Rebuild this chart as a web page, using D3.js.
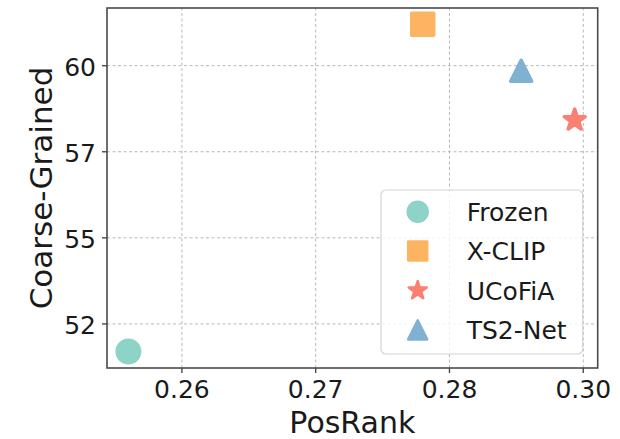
<!DOCTYPE html>
<html>
<head>
<meta charset="utf-8">
<script src="https://cdn.jsdelivr.net/npm/d3@7"></script>
<style>
	body { margin: 0; background: #fff; }
	svg { display: block; font-family: "DejaVu Sans", sans-serif; }
</style>
</head>
<body>
<div id="chart"></div>
<script>
// Methods, PosRank vs Coarse-Grained score
var methods = ["Frozen", "X-CLIP", "UCoFiA", "TS2-Net"];
var posRank = [0.2525, 0.2800, 0.2942, 0.2892];
var coarseGrained = [51.70, 61.20, 58.42, 59.85];

// ticks are evenly spaced, labels as printed on the figure
var xTicks = [0.2575, 0.2700, 0.2825, 0.2950];
var xTickLabels = ["0.26", "0.27", "0.28", "0.30"];
var yTicks = [52.5, 55.0, 57.5, 60.0];
var yTickLabels = ["52", "55", "57", "60"];

var colors = ["#8dd3c7", "#fdb462", "#fb8072", "#80b1d3"];
var shapes = ["circle", "square", "star", "triangle"];

var width = 620, height = 439;
var margin = {top: 8, right: 22.3, bottom: 71, left: 107};

// matplotlib-ish "^" marker: base as wide as it is tall
var triangleType = {
	draw: function(context, size) {
		var h = size / 2;
		context.moveTo(0, -h);
		context.lineTo(h, h);
		context.lineTo(-h, h);
		context.closePath();
	}
};

// d = rough outer size in px
function markerPath(shape, d) {
	var sym = d3.symbol();
	if (shape == "circle") sym.type(d3.symbolCircle).size(Math.PI * d * d / 4);
	else if (shape == "square") sym.type(d3.symbolSquare).size(d * d);
	else if (shape == "star") {
		var r = d / 1.902;
		sym.type(d3.symbolStar).size(r * r / 0.8908130915292852);
	}
	else sym.type(triangleType).size(d);
	return sym();
}

var svg = d3.select("#chart").append("svg")
	.attr("width", width)
	.attr("height", height);

var x = d3.scaleLinear().domain([0.2505, 0.29635]).range([margin.left, width - margin.right]);
var y = d3.scaleLinear().domain([51.22, 61.675]).range([height - margin.bottom, margin.top]);

var gridColor = "#b8b8b8";
var spineColor = "#4a4a4a";
var textColor = "#1a1a1a";

// grid
svg.append("g").selectAll("line.gx")
	.data(xTicks).join("line")
	.attr("x1", d => x(d)).attr("x2", d => x(d))
	.attr("y1", y.range()[0]).attr("y2", y.range()[1])
	.attr("stroke", gridColor).attr("stroke-width", 1).attr("stroke-dasharray", "3,2.5");
svg.append("g").selectAll("line.gy")
	.data(yTicks).join("line")
	.attr("y1", d => y(d)).attr("y2", d => y(d))
	.attr("x1", x.range()[0]).attr("x2", x.range()[1])
	.attr("stroke", gridColor).attr("stroke-width", 1).attr("stroke-dasharray", "3,2.5");

// points (round joins give the soft corners of the original markers)
var plotSize = {circle: 24, square: 22, star: 21, triangle: 21};
svg.append("g").selectAll("path")
	.data(methods).join("path")
	.attr("transform", (d, i) => "translate(" + x(posRank[i]) + "," + y(coarseGrained[i]) + ")")
	.attr("d", (d, i) => markerPath(shapes[i], plotSize[shapes[i]]))
	.attr("fill", (d, i) => colors[i])
	.attr("stroke", (d, i) => colors[i])
	.attr("stroke-width", (d, i) => shapes[i] == "circle" ? 2 : 3.5)
	.attr("stroke-linejoin", "round");

// spines
svg.append("rect")
	.attr("x", x.range()[0]).attr("y", y.range()[1])
	.attr("width", x.range()[1] - x.range()[0])
	.attr("height", y.range()[0] - y.range()[1])
	.attr("fill", "none").attr("stroke", spineColor).attr("stroke-width", 1.6);

// ticks
var xAxis = svg.append("g");
xTicks.forEach(function(t, i) {
	xAxis.append("line")
		.attr("x1", x(t)).attr("x2", x(t))
		.attr("y1", y.range()[0]).attr("y2", y.range()[0] + 5)
		.attr("stroke", spineColor).attr("stroke-width", 1.4);
	xAxis.append("text")
		.attr("x", x(t)).attr("y", y.range()[0] + 30)
		.attr("text-anchor", "middle")
		.attr("font-size", 25).attr("fill", textColor)
		.text(xTickLabels[i]);
});
var yAxis = svg.append("g");
yTicks.forEach(function(t, i) {
	yAxis.append("line")
		.attr("x1", x.range()[0] - 5).attr("x2", x.range()[0])
		.attr("y1", y(t)).attr("y2", y(t))
		.attr("stroke", spineColor).attr("stroke-width", 1.4);
	yAxis.append("text")
		.attr("x", x.range()[0] - 11).attr("y", y(t) + 10)
		.attr("text-anchor", "end")
		.attr("font-size", 25).attr("fill", textColor)
		.text(yTickLabels[i]);
});

// axis titles
svg.append("text")
	.attr("x", (x.range()[0] + x.range()[1]) / 2).attr("y", 433)
	.attr("text-anchor", "middle")
	.attr("font-size", 30).attr("fill", textColor)
	.text("PosRank");
svg.append("text")
	.attr("transform", "translate(52," + (y.range()[0] + y.range()[1]) / 2 + ") rotate(-90)")
	.attr("text-anchor", "middle")
	.attr("font-size", 31).attr("fill", textColor)
	.text("Coarse-Grained");

// legend
var legendSize = {circle: 21, square: 19, star: 18, triangle: 19};
var legend = svg.append("g").attr("transform", "translate(381,190)");
legend.append("rect")
	.attr("width", 201.7).attr("height", 164)
	.attr("rx", 5)
	.attr("fill", "rgba(255,255,255,0.8)")
	.attr("stroke", "#d4d4d4").attr("stroke-width", 1.2);
methods.forEach(function(m, i) {
	var row = legend.append("g").attr("transform", "translate(0," + (21.7 + i * 39.4) + ")");
	row.append("path")
		.attr("transform", "translate(36.7,0)")
		.attr("d", markerPath(shapes[i], legendSize[shapes[i]]))
		.attr("fill", colors[i]).attr("stroke", colors[i])
		.attr("stroke-width", shapes[i] == "circle" ? 1.5 : 2.5).attr("stroke-linejoin", "round");
	row.append("text")
		.attr("x", 85.7).attr("y", 9)
		.attr("font-size", 25).attr("fill", textColor)
		.text(m);
});
</script>
</body>
</html>
